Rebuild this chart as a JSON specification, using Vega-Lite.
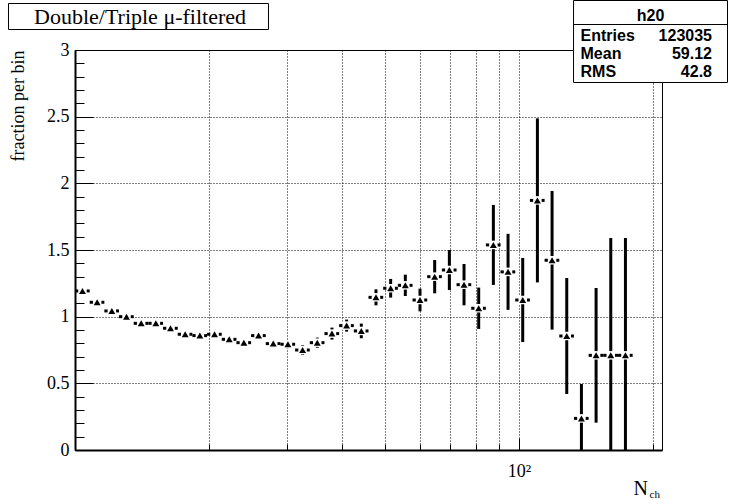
{
  "$schema": "https://vega.github.io/schema/vega-lite/v6.json",
  "width": 587,
  "height": 400,
  "autosize": {"type": "none"},
  "padding": {"left": 75, "top": 50, "right": 73, "bottom": 50},
  "background": "white",
  "config": {
    "view": {"stroke": "black", "strokeWidth": 1},
    "font": "Liberation Serif",
    "axis": {"labelColor": "black", "tickColor": "black", "domainColor": "black", "titleColor": "black", "gridColor": "black", "gridOpacity": 1}
  },
  "data": {
    "values": [
      {"x": 10.395, "lo": 10.0, "hi": 10.791, "y": 1.193, "ylo": 1.181, "yhi": 1.205},
      {"x": 11.218, "lo": 10.791, "hi": 11.644, "y": 1.108, "ylo": 1.095, "yhi": 1.121},
      {"x": 12.105, "lo": 11.644, "hi": 12.565, "y": 1.043, "ylo": 1.029, "yhi": 1.057},
      {"x": 13.062, "lo": 12.565, "hi": 13.559, "y": 1.0, "ylo": 0.985, "yhi": 1.015},
      {"x": 14.095, "lo": 13.559, "hi": 14.631, "y": 0.95, "ylo": 0.934, "yhi": 0.966},
      {"x": 15.209, "lo": 14.631, "hi": 15.788, "y": 0.95, "ylo": 0.933, "yhi": 0.967},
      {"x": 16.412, "lo": 15.788, "hi": 17.037, "y": 0.913, "ylo": 0.895, "yhi": 0.931},
      {"x": 17.71, "lo": 17.037, "hi": 18.384, "y": 0.868, "ylo": 0.849, "yhi": 0.887},
      {"x": 19.111, "lo": 18.384, "hi": 19.838, "y": 0.858, "ylo": 0.838, "yhi": 0.878},
      {"x": 20.622, "lo": 19.838, "hi": 21.406, "y": 0.868, "ylo": 0.847, "yhi": 0.889},
      {"x": 22.253, "lo": 21.406, "hi": 23.099, "y": 0.83, "ylo": 0.808, "yhi": 0.852},
      {"x": 24.013, "lo": 23.099, "hi": 24.926, "y": 0.805, "ylo": 0.781, "yhi": 0.829},
      {"x": 25.912, "lo": 24.926, "hi": 26.897, "y": 0.858, "ylo": 0.832, "yhi": 0.884},
      {"x": 27.961, "lo": 26.897, "hi": 29.024, "y": 0.798, "ylo": 0.77, "yhi": 0.826},
      {"x": 30.172, "lo": 29.024, "hi": 31.32, "y": 0.793, "ylo": 0.763, "yhi": 0.823},
      {"x": 32.558, "lo": 31.32, "hi": 33.796, "y": 0.75, "ylo": 0.714, "yhi": 0.786},
      {"x": 35.133, "lo": 33.796, "hi": 36.469, "y": 0.805, "ylo": 0.767, "yhi": 0.843},
      {"x": 37.911, "lo": 36.469, "hi": 39.353, "y": 0.873, "ylo": 0.828, "yhi": 0.918},
      {"x": 40.909, "lo": 39.353, "hi": 42.465, "y": 0.933, "ylo": 0.888, "yhi": 0.978},
      {"x": 44.146, "lo": 42.465, "hi": 45.826, "y": 0.893, "ylo": 0.838, "yhi": 0.948},
      {"x": 47.638, "lo": 45.826, "hi": 49.45, "y": 1.145, "ylo": 1.085, "yhi": 1.205},
      {"x": 51.405, "lo": 49.45, "hi": 53.36, "y": 1.213, "ylo": 1.143, "yhi": 1.283},
      {"x": 55.47, "lo": 53.36, "hi": 57.58, "y": 1.235, "ylo": 1.155, "yhi": 1.315},
      {"x": 59.857, "lo": 57.58, "hi": 62.134, "y": 1.125, "ylo": 1.04, "yhi": 1.21},
      {"x": 64.591, "lo": 62.134, "hi": 67.047, "y": 1.3, "ylo": 1.175, "yhi": 1.425},
      {"x": 69.698, "lo": 67.047, "hi": 72.35, "y": 1.35, "ylo": 1.2, "yhi": 1.5},
      {"x": 75.21, "lo": 72.35, "hi": 78.071, "y": 1.24, "ylo": 1.085, "yhi": 1.395},
      {"x": 81.158, "lo": 78.071, "hi": 84.245, "y": 1.063, "ylo": 0.908, "yhi": 1.218},
      {"x": 87.576, "lo": 84.245, "hi": 90.908, "y": 1.538, "ylo": 1.238, "yhi": 1.838},
      {"x": 94.502, "lo": 90.908, "hi": 98.097, "y": 1.336, "ylo": 1.051, "yhi": 1.621},
      {"x": 101.975, "lo": 98.097, "hi": 105.854, "y": 1.125, "ylo": 0.81, "yhi": 1.44},
      {"x": 110.04, "lo": 105.854, "hi": 114.225, "y": 1.872, "ylo": 1.257, "yhi": 2.487},
      {"x": 118.742, "lo": 114.225, "hi": 123.258, "y": 1.423, "ylo": 0.903, "yhi": 1.943},
      {"x": 128.132, "lo": 123.258, "hi": 133.006, "y": 0.855, "ylo": 0.42, "yhi": 1.29},
      {"x": 138.265, "lo": 133.006, "hi": 143.524, "y": 0.237, "ylo": 0.0, "yhi": 0.495},
      {"x": 149.199, "lo": 143.524, "hi": 154.874, "y": 0.71, "ylo": 0.205, "yhi": 1.215},
      {"x": 160.998, "lo": 154.874, "hi": 167.122, "y": 0.71, "ylo": 0.0, "yhi": 1.59},
      {"x": 173.73, "lo": 167.122, "hi": 180.338, "y": 0.71, "ylo": 0.0, "yhi": 1.59}
    ]
  },
  "resolve": {"axis": {"x": "independent", "y": "independent"}},
  "layer": [
    {
      "mark": {"type": "rule", "color": "black", "strokeWidth": 3},
      "encoding": {
        "x": {"field": "lo", "type": "quantitative", "scale": {"type": "log", "domain": [10, 210], "nice": false},
          "axis": {"orient": "bottom", "values": [100], "labelExpr": "'10²'", "ticks": false, "grid": false, "domain": true, "domainWidth": 2,
            "labelFont": "Liberation Serif", "labelFontSize": 18, "labelPadding": 12, "labelFlush": false,
            "title": "N", "titleFont": "Liberation Serif", "titleFontSize": 20, "titleFontWeight": "normal",
            "titleX": 558, "titleY": 44, "titleAlign": "left", "titleBaseline": "alphabetic", "titleAngle": 0}},
        "x2": {"field": "hi"},
        "y": {"field": "y", "type": "quantitative", "scale": {"domain": [0, 3], "nice": false, "zero": false},
          "axis": {"orient": "left", "values": [0, 0.5, 1, 1.5, 2, 2.5, 3], "format": "~g", "ticks": false, "grid": true, "gridDash": [1, 2], "gridWidth": 1,
            "domain": true, "domainWidth": 2, "labelFont": "Liberation Serif", "labelFontSize": 18, "labelPadding": 6,
            "title": "fraction per bin", "titleFont": "Liberation Serif", "titleFontSize": 18, "titleFontWeight": "normal",
            "titleAngle": -90, "titleX": -52, "titleY": 0, "titleAlign": "right", "titleBaseline": "alphabetic"}}
      }
    },
    {
      "mark": {"type": "rule", "color": "black", "strokeWidth": 3},
      "encoding": {
        "x": {"field": "x", "type": "quantitative", "scale": {"type": "log", "domain": [10, 210], "nice": false}, "axis": null},
        "y": {"field": "ylo", "type": "quantitative", "scale": {"domain": [0, 3], "nice": false, "zero": false}, "axis": null},
        "y2": {"field": "yhi"}
      }
    },
    {
      "mark": {"type": "point", "shape": "square", "filled": true, "color": "white", "size": 72, "opacity": 1, "strokeWidth": 0},
      "encoding": {
        "x": {"field": "x", "type": "quantitative", "scale": {"type": "log", "domain": [10, 210], "nice": false},
          "axis": {"orient": "bottom", "values": [20, 30, 40, 50, 60, 70, 80, 90, 100, 200], "labels": false, "domain": false, "ticks": true, "tickSize": -6, "tickWidth": 1,
            "grid": true, "gridDash": [1, 2], "gridWidth": 1,
            "title": "ch", "titleFont": "Liberation Serif", "titleFontSize": 11, "titleFontWeight": "normal",
            "titleX": 574, "titleY": 47, "titleAlign": "left", "titleBaseline": "alphabetic", "titleAngle": 0}},
        "y": {"field": "y", "type": "quantitative", "scale": {"domain": [0, 3], "nice": false, "zero": false},
          "axis": {"orient": "left", "values": [0.1, 0.2, 0.3, 0.4, 0.6, 0.7, 0.8, 0.9, 1.1, 1.2, 1.3, 1.4, 1.6, 1.7, 1.8, 1.9, 2.1, 2.2, 2.3, 2.4, 2.6, 2.7, 2.8, 2.9],
            "labels": false, "domain": false, "ticks": true, "tickSize": -9, "tickWidth": 1, "grid": false, "title": null}}
      }
    },
    {
      "mark": {"type": "point", "shape": "triangle-up", "filled": true, "color": "black", "size": 48, "opacity": 1},
      "encoding": {
        "x": {"field": "x", "type": "quantitative", "scale": {"type": "log", "domain": [10, 210], "nice": false},
          "axis": {"orient": "bottom", "values": [100], "labels": false, "domain": false, "ticks": true, "tickSize": -12, "tickWidth": 1, "grid": false, "title": null}},
        "y": {"field": "y", "type": "quantitative", "scale": {"domain": [0, 3], "nice": false, "zero": false},
          "axis": {"orient": "left", "values": [0.5, 1, 1.5, 2, 2.5], "labels": false, "domain": false, "ticks": true, "tickSize": -18, "tickWidth": 1, "grid": false, "title": null}}
      }
    },
    {
      "data": {"values": [{}]},
      "mark": {"type": "rect", "fill": "white", "stroke": "black", "strokeWidth": 1},
      "encoding": {
        "x": {"datum": 7.0826, "type": "quantitative", "scale": {"type": "log", "domain": [10, 210], "nice": false}, "axis": null},
        "x2": {"datum": 27.28},
        "y": {"datum": 3.34875, "type": "quantitative", "scale": {"domain": [0, 3], "nice": false, "zero": false}, "axis": null},
        "y2": {"datum": 3.15375}
      }
    },
    {
      "data": {"values": [{}]},
      "mark": {"type": "text", "text": "Double/Triple μ-filtered", "font": "Liberation Serif", "fontSize": 22, "color": "black", "align": "center", "baseline": "alphabetic"},
      "encoding": {
        "x": {"datum": 14.011, "type": "quantitative", "scale": {"type": "log", "domain": [10, 210], "nice": false}, "axis": null},
        "y": {"datum": 3.19875, "type": "quantitative", "scale": {"domain": [0, 3], "nice": false, "zero": false}, "axis": null}
      }
    },
    {
      "data": {"values": [{}]},
      "mark": {"type": "rect", "fill": "white", "stroke": "black", "strokeWidth": 1},
      "encoding": {
        "x": {"datum": 132.73, "type": "quantitative", "scale": {"type": "log", "domain": [10, 210], "nice": false}, "axis": null},
        "x2": {"datum": 294.97},
        "y": {"datum": 3.37125, "type": "quantitative", "scale": {"domain": [0, 3], "nice": false, "zero": false}, "axis": null},
        "y2": {"datum": 2.75625}
      }
    },
    {
      "data": {"values": [{}]},
      "mark": {"type": "rule", "color": "black", "strokeWidth": 1},
      "encoding": {
        "x": {"datum": 132.73, "type": "quantitative", "scale": {"type": "log", "domain": [10, 210], "nice": false}, "axis": null},
        "x2": {"datum": 294.97},
        "y": {"datum": 3.19125, "type": "quantitative", "scale": {"domain": [0, 3], "nice": false, "zero": false}, "axis": null}
      }
    },
    {
      "data": {"values": [{}]},
      "mark": {"type": "text", "text": "h20", "font": "Liberation Sans", "fontSize": 16, "fontWeight": "bold", "color": "black", "align": "center", "baseline": "alphabetic"},
      "encoding": {
        "x": {"datum": 197.87, "type": "quantitative", "scale": {"type": "log", "domain": [10, 210], "nice": false}, "axis": null},
        "y": {"datum": 3.216, "type": "quantitative", "scale": {"domain": [0, 3], "nice": false, "zero": false}, "axis": null}
      }
    },
    {
      "data": {"values": [{}]},
      "mark": {"type": "text", "text": ["Entries", "Mean", "RMS"], "lineHeight": 18.35, "font": "Liberation Sans", "fontSize": 16, "fontWeight": "bold", "color": "black", "align": "left", "baseline": "alphabetic"},
      "encoding": {
        "x": {"datum": 137.63, "type": "quantitative", "scale": {"type": "log", "domain": [10, 210], "nice": false}, "axis": null},
        "y": {"datum": 3.069, "type": "quantitative", "scale": {"domain": [0, 3], "nice": false, "zero": false}, "axis": null}
      }
    },
    {
      "data": {"values": [{}]},
      "mark": {"type": "text", "text": ["123035", "59.12", "42.8"], "lineHeight": 18.35, "font": "Liberation Sans", "fontSize": 16, "fontWeight": "bold", "color": "black", "align": "right", "baseline": "alphabetic"},
      "encoding": {
        "x": {"datum": 272.14, "type": "quantitative", "scale": {"type": "log", "domain": [10, 210], "nice": false}, "axis": null},
        "y": {"datum": 3.069, "type": "quantitative", "scale": {"domain": [0, 3], "nice": false, "zero": false}, "axis": null}
      }
    }
  ]
}
